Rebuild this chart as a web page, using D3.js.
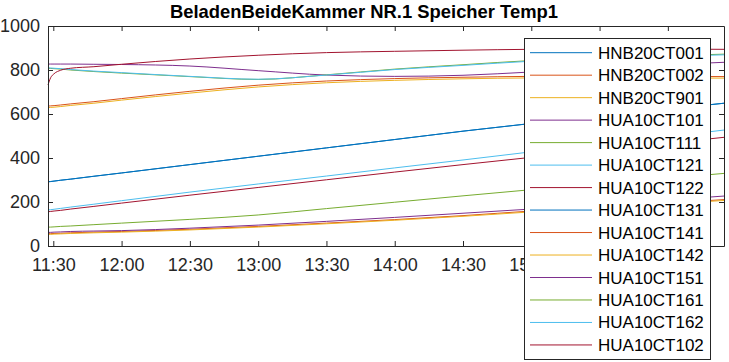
<!DOCTYPE html>
<html>
<head>
<meta charset="utf-8">
<script src="https://cdn.jsdelivr.net/npm/d3@7"></script>
<style>
  body { margin: 0; background: #fff; }
  svg { font-family: "Liberation Sans", Arial, sans-serif; }
</style>
</head>
<body>
<svg id="chart" width="729" height="362"></svg>
<script>
// sample times (same day)
var times = ["11:27:40", "11:28:50", "11:30:20", "11:33:15", "11:37:40", "11:47:50", "12:00:00", "12:30:00",
             "13:00:00", "13:30:00", "14:00:00", "14:30:00", "15:00:00", "15:30:00", "16:00:00", "16:24:40"];

// temperatures
var HNB20CT001 = [292, 293, 295, 299, 304, 317, 332, 370, 408, 446, 484, 522, 557, 591, 622, 649];
var HNB20CT002 = [56, 56, 57, 58, 60, 63, 66, 76, 89, 104, 120, 138, 159, 176, 195, 211];
var HNB20CT901 = [53, 53, 54, 55, 57, 60, 63, 73, 86, 101, 117, 135, 155, 172, 191, 207];
var HUA10CT101 = [62, 62, 63, 64, 66, 68, 70, 81, 95, 112, 130, 149, 168, 188, 209, 227];
var HUA10CT111 = [86, 86, 87, 89, 91, 97, 104, 121, 141, 170, 199, 228, 256, 283, 308, 330];
var HUA10CT121 = [164, 165, 167, 171, 177, 190, 206, 245, 282, 318, 355, 391, 428, 462, 497, 527];
var HUA10CT122 = [156, 157, 159, 162, 168, 180, 195, 231, 266, 301, 336, 370, 403, 435, 467, 494];
var HUA10CT131 = [292, 293, 295, 299, 304, 317, 332, 370, 408, 446, 484, 522, 557, 591, 622, 649];
var HUA10CT141 = [636, 637, 638, 641, 646, 656, 670, 703, 731, 750, 761, 767, 771, 772, 771, 770];
var HUA10CT142 = [629, 630, 631, 634, 639, 649, 663, 695, 723, 742, 753, 760, 764, 765, 764, 763];
var HUA10CT151 = [827, 827, 827, 827, 827, 826, 825, 818, 797, 777, 771, 776, 791, 808, 824, 835];
var HUA10CT161 = [808, 807, 806, 804, 800, 793, 786, 770, 757, 778, 804, 824, 843, 855, 865, 872];
var HUA10CT162 = [810, 809, 808, 806, 802, 795, 788, 771, 758, 777, 802, 821, 840, 852, 862, 869];
var HUA10CT102 = [732, 765, 783, 799, 808, 815, 826, 850, 867, 879, 885, 890, 894, 895, 895, 894];

var seriesNames = ["HNB20CT001", "HNB20CT002", "HNB20CT901", "HUA10CT101", "HUA10CT111", "HUA10CT121", "HUA10CT122",
                   "HUA10CT131", "HUA10CT141", "HUA10CT142", "HUA10CT151", "HUA10CT161", "HUA10CT162", "HUA10CT102"];
var seriesValues = [HNB20CT001, HNB20CT002, HNB20CT901, HUA10CT101, HUA10CT111, HUA10CT121, HUA10CT122,
                    HUA10CT131, HUA10CT141, HUA10CT142, HUA10CT151, HUA10CT161, HUA10CT162, HUA10CT102];

// matlab default colour order, repeats after 7
var colorOrder = ["#0072BD", "#D95319", "#EDB120", "#7E2F8E", "#77AC30", "#4DBEEE", "#A2142F"];

var yTicks = [0, 200, 400, 600, 800, 1000];
var xTickLabels = ["11:30", "12:00", "12:30", "13:00", "13:30", "14:00", "14:30", "15:00", "15:30", "16:00"];
var chartTitle = "BeladenBeideKammer NR.1 Speicher Temp1";

var parseTime = d3.timeParse("%Y-%m-%d %H:%M:%S");
var day = "2020-01-01 ";
var dates = times.map(function(t) { return parseTime(day + t); });
var xTickDates = xTickLabels.map(function(t) { return parseTime(day + t + ":00"); });

var svg = d3.select("#chart");
var axisColor = "#262626";

// plot box (don't call it "top", that's window.top)
var box = { left: 48, right: 724, top: 26, bottom: 246 };

// legend box position
var legX = 524, legY = 38, legW = 186, legH = 321;

var x = d3.scaleTime().domain([dates[0], dates[dates.length - 1]]).range([box.left, box.right]);
var y = d3.scaleLinear().domain([0, 1000]).range([box.bottom, box.top]);

// lines
var line = d3.line()
    .x(function(d) { return x(d.date); })
    .y(function(d) { return y(d.value); })
    .curve(d3.curveMonotoneX);

var plot = svg.append("g");
seriesValues.forEach(function(vals, i) {
    var data = vals.map(function(v, j) { return { date: dates[j], value: v }; });
    plot.append("path")
        .datum(data)
        .attr("fill", "none")
        .attr("stroke", colorOrder[i % 7])
        .attr("stroke-width", 1)
        .attr("d", line);
});

// axes, matlab style: ticks inside, box on
var tickLen = 5;
var timeFmt = d3.timeFormat("%H:%M");
// labels that sit fully under the legend are not drawn (legend hides them anyway)
var xAxisB = d3.axisBottom(x).tickValues(xTickDates)
    .tickFormat(function(d) { return x(d) - 22 > legX ? "" : timeFmt(d); })
    .tickSizeInner(-tickLen).tickSizeOuter(0).tickPadding(12);
var xAxisT = d3.axisTop(x).tickValues(xTickDates).tickFormat("").tickSizeInner(-tickLen).tickSizeOuter(0);
var yAxisL = d3.axisLeft(y).tickValues(yTicks).tickFormat(d3.format("d")).tickSizeInner(-tickLen).tickSizeOuter(0).tickPadding(8);
var yAxisR = d3.axisRight(y).tickValues(yTicks).tickFormat("").tickSizeInner(-tickLen).tickSizeOuter(0);

function styleAxis(g) {
    g.select(".domain").attr("stroke", axisColor);
    g.selectAll(".tick line").attr("stroke", axisColor);
    g.selectAll(".tick text").attr("fill", axisColor).style("font-size", "18px").style("font-family", "'Liberation Sans', Arial, sans-serif");
}

svg.append("g").attr("transform", "translate(0," + box.bottom + ")").call(xAxisB).call(styleAxis);
svg.append("g").attr("transform", "translate(0," + box.top + ")").call(xAxisT).call(styleAxis);
svg.append("g").attr("transform", "translate(" + box.left + ",0)").call(yAxisL).call(styleAxis);
svg.append("g").attr("transform", "translate(" + box.right + ",0)").call(yAxisR).call(styleAxis);

// title
svg.append("text")
    .attr("x", 364)
    .attr("y", 18)
    .attr("text-anchor", "middle")
    .style("font-size", "18.4px")
    .style("font-weight", "bold")
    .attr("fill", "#000")
    .text(chartTitle);

// legend
var rowH = 22.48, firstRow = 52.7;
var legend = svg.append("g");
legend.append("rect")
    .attr("x", legX + 0.5).attr("y", legY + 0.5)
    .attr("width", legW).attr("height", legH)
    .attr("fill", "#fff")
    .attr("stroke", axisColor);

seriesNames.forEach(function(name, i) {
    var cy = firstRow + i * rowH;
    legend.append("line")
        .attr("x1", 530).attr("x2", 592)
        .attr("y1", cy).attr("y2", cy)
        .attr("stroke", colorOrder[i % 7])
        .attr("stroke-width", 1);
    legend.append("text")
        .attr("x", 598)
        .attr("y", cy + 6)
        .style("font-size", "17px")
        .attr("fill", "#000")
        .text(name);
});
</script>
</body>
</html>
